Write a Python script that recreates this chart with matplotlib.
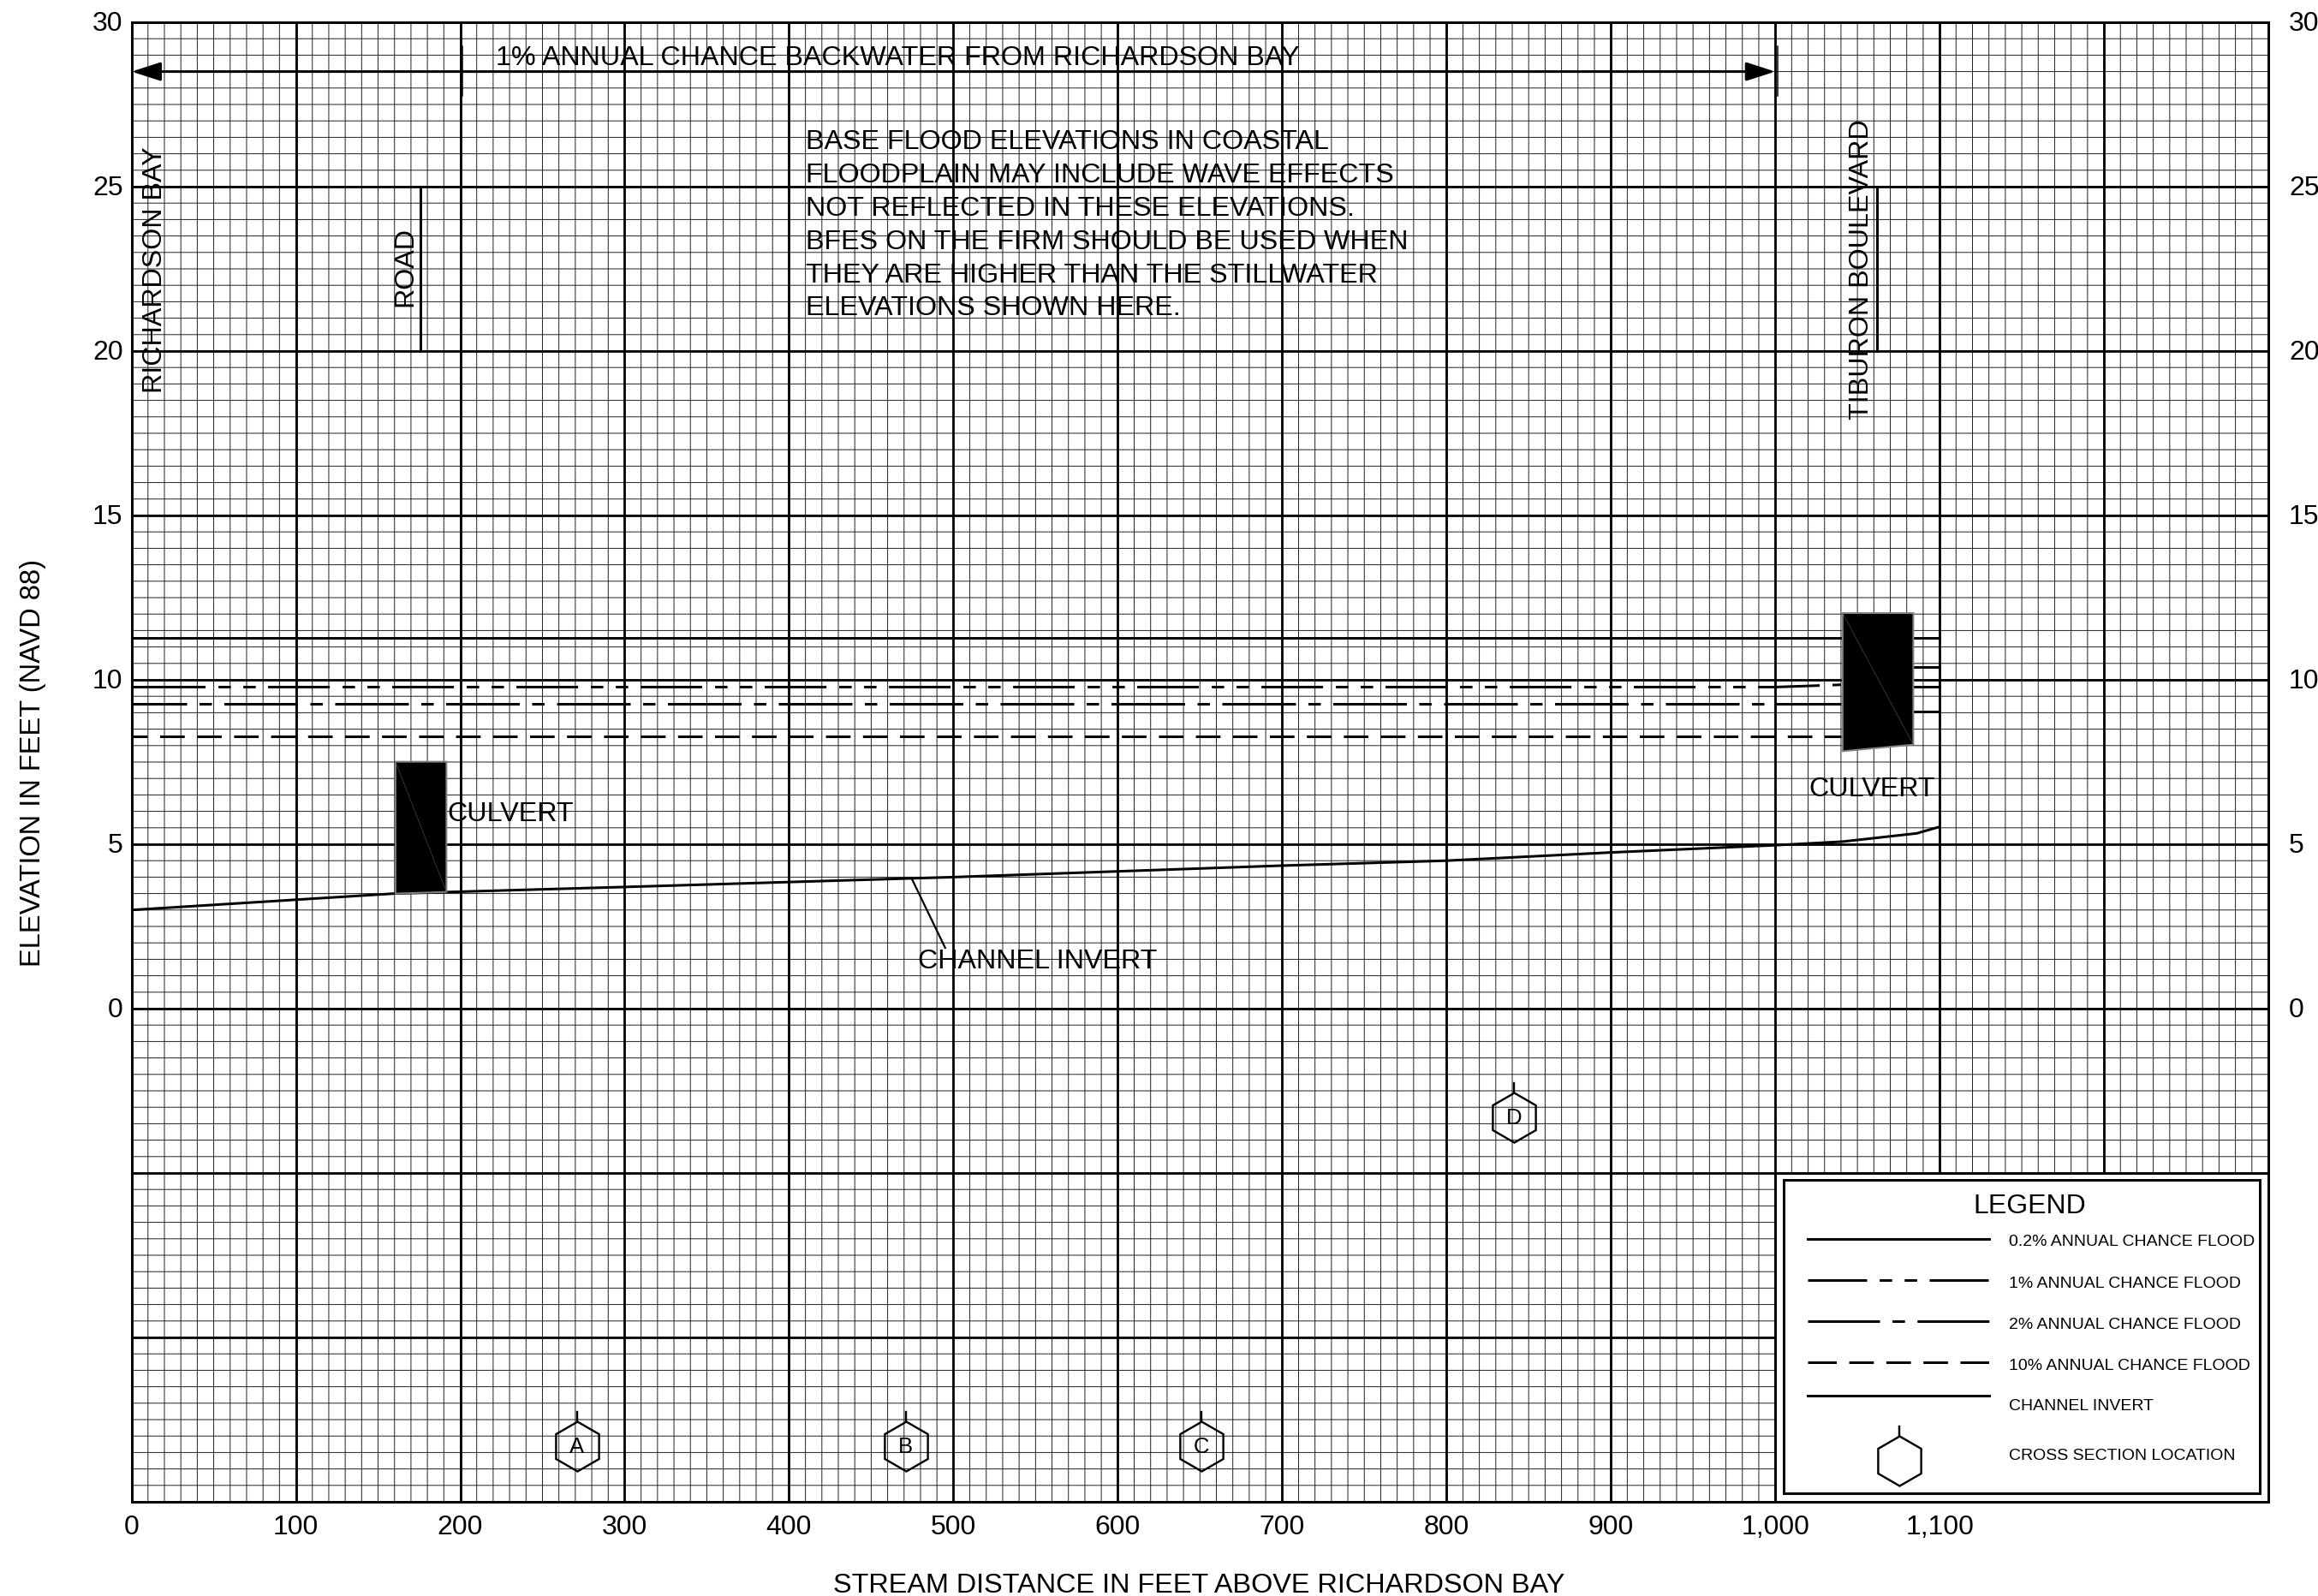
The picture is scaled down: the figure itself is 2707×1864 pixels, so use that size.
import matplotlib
matplotlib.use('Agg')
import matplotlib.pyplot as plt
import numpy as np
from matplotlib.patches import Polygon, Rectangle
from matplotlib.transforms import ScaledTranslation

plt.rcParams['font.family'] = ['Liberation Sans', 'DejaVu Sans']
plt.rcParams['lines.scale_dashes'] = False

# stream distance (ft) and water surface elevations (ft NAVD 88)
flood_x_left = [0, 1000, 1040]
flood_x_right = [1085, 1100]
flood_02_left = [11.27, 11.27, 11.27]
flood_02_right = [11.27, 11.27]
flood_1_left = [9.78, 9.78, 9.85]
flood_1_right = [10.39, 10.39]
flood_2_left = [9.27, 9.27, 9.27]
flood_2_right = [9.78, 9.78]
flood_10_left = [8.27, 8.27, 8.27]
flood_10_right = [9.04, 9.04]

invert_x = [0, 160, 300, 500, 700, 800, 900, 1000, 1041, 1086, 1100]
invert_y = [3.0, 3.5, 3.7, 4.0, 4.35, 4.5, 4.75, 4.97, 5.08, 5.33, 5.53]

culvert1_x = [160.6, 191.6, 191.6, 160.6]
culvert1_y = [7.51, 7.51, 3.55, 3.5]
culvert2_x = [1041, 1084, 1084, 1041]
culvert2_y = [12.03, 12.03, 8.03, 7.83]

section_names = ['A', 'B', 'C', 'D']
section_x = [271, 471, 651, 841]
section_y = [-13.3, -13.3, -13.3, -3.3]

x_ticks = [0, 100, 200, 300, 400, 500, 600, 700, 800, 900, 1000, 1100]
x_tick_labels = ['0', '100', '200', '300', '400', '500', '600', '700', '800', '900', '1,000', '1,100']
y_ticks = [0, 5, 10, 15, 20, 25, 30]

note_lines = ['BASE FLOOD ELEVATIONS IN COASTAL',
              'FLOODPLAIN MAY INCLUDE WAVE EFFECTS',
              'NOT REFLECTED IN THESE ELEVATIONS.',
              'BFES ON THE FIRM SHOULD BE USED WHEN',
              'THEY ARE HIGHER THAN THE STILLWATER',
              'ELEVATIONS SHOWN HERE.']

legend_labels = ['0.2% ANNUAL CHANCE FLOOD', '1% ANNUAL CHANCE FLOOD', '2% ANNUAL CHANCE FLOOD',
                 '10% ANNUAL CHANCE FLOOD', 'CHANNEL INVERT', 'CROSS SECTION LOCATION']

W, H = 2707, 1865
px = 0.72  # one pixel in points at dpi 100
fig = plt.figure(figsize=(W / 100, H / 100), dpi=100)
fig.patch.set_facecolor('white')
ax = fig.add_axes([153.6 / W, 1 - 1755 / H, (2649 - 153.6) / W, (1755 - 27) / H])
ax.set_xlim(0, 1300)
ax.set_ylim(-15, 30)

# graph paper
for v in np.arange(0, 1300, 10):
    ax.axvline(v, color='#1a1a1a', lw=0.95 * px, snap=False, zorder=1)
for v in np.arange(-15, 30, 0.5):
    ax.axhline(v, color='#1a1a1a', lw=0.95 * px, snap=False, zorder=1)
for v in np.arange(100, 1300, 100):
    ax.axvline(v, color='black', lw=2.8 * px, zorder=2)
for v in np.arange(-10, 30, 5):
    ax.axhline(v, color='black', lw=2.8 * px, zorder=2)
for s in ax.spines.values():
    s.set_linewidth(3 * px)
    s.set_zorder(6)

ax.set_xticks(x_ticks)
ax.set_xticklabels(x_tick_labels)
ax.set_yticks(y_ticks)
ax.tick_params(length=0, labelsize=23)
ax.tick_params(axis='x', pad=14 * px)
ax.tick_params(axis='y', pad=10 * px)
ax2 = ax.twinx()
ax2.set_ylim(-15, 30)
ax2.set_yticks(y_ticks)
ax2.tick_params(length=0, labelsize=23, pad=24 * px)
for s in ax2.spines.values():
    s.set_visible(False)
# y labels sit a little above their lines
up = ScaledTranslation(0, 2.5 / 100, fig.dpi_scale_trans)
for lab in ax.get_yticklabels() + ax2.get_yticklabels():
    lab.set_transform(lab.get_transform() + up)

fig.text(1400 / W, 1 - 1852 / H, 'STREAM DISTANCE IN FEET ABOVE RICHARDSON BAY', fontsize=23.3, ha='center', va='center')
fig.text(39 / W, 1 - 891 / H, 'ELEVATION IN FEET (NAVD 88)', fontsize=23.5, rotation=90, ha='center', va='center')

dash_1 = (72 * px, 15 * px, 14.5 * px, 14.5 * px, 14.5 * px, 14.5 * px)
dash_2 = (86 * px, 14.5 * px, 14.5 * px, 14.5 * px)
dash_10 = (28.7 * px, 14.5 * px)
lw = 3 * px

ax.plot(flood_x_left, flood_02_left, color='black', lw=lw, zorder=3)
ax.plot(flood_x_right, flood_02_right, color='black', lw=lw, zorder=3)
ax.plot(flood_x_left, flood_1_left, color='black', lw=lw, zorder=3, ls=(130.5 * px, dash_1), dash_capstyle='butt')
ax.plot([0, 8], flood_1_left[:2], color='black', lw=lw, zorder=3)  # the pattern starts mid dash
ax.plot(flood_x_right, flood_1_right, color='black', lw=lw, zorder=3)
ax.plot(flood_x_left, flood_2_left, color='black', lw=lw, zorder=3, ls=(22 * px, dash_2), dash_capstyle='butt')
ax.plot(flood_x_right, flood_2_right, color='black', lw=lw, zorder=3)
ax.plot(flood_x_left, flood_10_left, color='black', lw=lw, zorder=3, ls=(10.7 * px, dash_10), dash_capstyle='butt')
ax.plot(flood_x_right, flood_10_right, color='black', lw=lw, zorder=3)
ax.plot(invert_x, invert_y, color='black', lw=lw, zorder=3)

for cx, cy in [(culvert1_x, culvert1_y), (culvert2_x, culvert2_y)]:
    ax.add_patch(Polygon(list(zip(cx, cy)), closed=True, facecolor='black', edgecolor='#808080', lw=2 * px, zorder=4))
    ax.plot([cx[0], cx[2]], [cy[0], cy[2]], color='#555555', lw=0.6 * px, zorder=5)

# backwater arrow
head = dict(arrowstyle='-|>,head_length=0.87,head_width=0.28', color='black', lw=lw, shrinkA=0, shrinkB=0, mutation_scale=24)
ax.annotate('', xy=(0, 28.5), xytext=(500, 28.5), arrowprops=head, zorder=5)
ax.annotate('', xy=(1000, 28.5), xytext=(500, 28.5), arrowprops=head, zorder=5)
ax.plot([201.5, 201.5], [27.76, 29.27], color='black', lw=1.5 * px, zorder=3)
ax.plot([1001.5, 1001.5], [27.76, 29.27], color='black', lw=1.5 * px, zorder=3)

# leaders
ax.plot([176, 176], [20, 25], color='black', lw=lw, zorder=3)
ax.plot([1062, 1062], [20, 25], color='black', lw=lw, zorder=3)
ax.plot([475, 495], [3.92, 1.85], color='black', lw=2.2 * px, zorder=3)

fs = 23.2
ax.text(221.5, 28.93, '1% ANNUAL CHANCE BACKWATER FROM RICHARDSON BAY', fontsize=fs, va='center', zorder=5)
ax.text(14.3, 22.5, 'RICHARDSON BAY', fontsize=fs, rotation=90, ha='center', va='center', zorder=5)
ax.text(166.5, 22.6, 'ROAD', fontsize=fs, rotation=90, ha='center', va='center', zorder=5)
ax.text(1052.5, 22.5, 'TIBURON BOULEVARD', fontsize=fs, rotation=90, ha='center', va='center', zorder=5)
ax.text(192.2, 5.95, 'CULVERT', fontsize=fs, va='center', zorder=5)
ax.text(1020.4, 6.69, 'CULVERT', fontsize=fs, va='center', zorder=5)
ax.text(478.4, 1.45, 'CHANNEL INVERT', fontsize=fs, va='center', zorder=5)
for i, line in enumerate(note_lines):
    ax.text(410, 26.37 - 1.01 * i, line, fontsize=fs, va='center', zorder=5)

# cross sections
ax.plot(section_x, section_y, 'h', ms=58 * px, mfc='none', mec='black', mew=2.4 * px, ls='none', zorder=5)
for n, sx, sy in zip(section_names, section_x, section_y):
    ax.plot([sx, sx], [sy + 0.76, sy + 1.04], color='black', lw=2.4 * px, zorder=5)
    ax.text(sx, sy, n, fontsize=18.5, ha='center', va='center', zorder=5)

# legend block
ax.add_patch(Rectangle((1000, -15), 300, 10, facecolor='white', edgecolor='black', lw=3 * px, zorder=6))
ax.add_patch(Rectangle((1005, -14.73), 290, 9.51, facecolor='white', edgecolor='black', lw=3 * px, zorder=7))
ax.text(1155, -6.0, 'LEGEND', fontsize=23, ha='center', va='center', zorder=8)
sample_y = [-7.0, -8.25, -9.5, -10.75, -11.77]
text_y = [-7.07, -8.35, -9.6, -10.85, -12.08, -13.58]
styles = ['-', (0, (69 * px, 14.6 * px, 14.6 * px, 14.6 * px, 14.6 * px, 14.6 * px, 69 * px, 100)),
          (0, (84 * px, 14.6 * px, 14.6 * px, 14.6 * px, 84 * px, 100)),
          (0, (33.5 * px, 14.6 * px, 28.7 * px, 14.6 * px, 28.7 * px, 14.6 * px, 28.7 * px, 14.6 * px, 33.5 * px, 100)), '-']
for sy, st in zip(sample_y, styles):
    ax.plot([1019.8, 1130.4], [sy, sy], color='black', lw=lw, ls=st, dash_capstyle='butt', zorder=8)
for ty, label in zip(text_y, legend_labels):
    ax.text(1142, ty, label, fontsize=14, va='center', zorder=8)
ax.plot([1075.5], [-13.74], 'h', ms=58 * px, mfc='none', mec='black', mew=2.4 * px, zorder=8)
ax.plot([1075.5, 1075.5], [-12.98, -12.72], color='black', lw=2.4 * px, zorder=8)

fig.savefig('out.png', dpi=100)
